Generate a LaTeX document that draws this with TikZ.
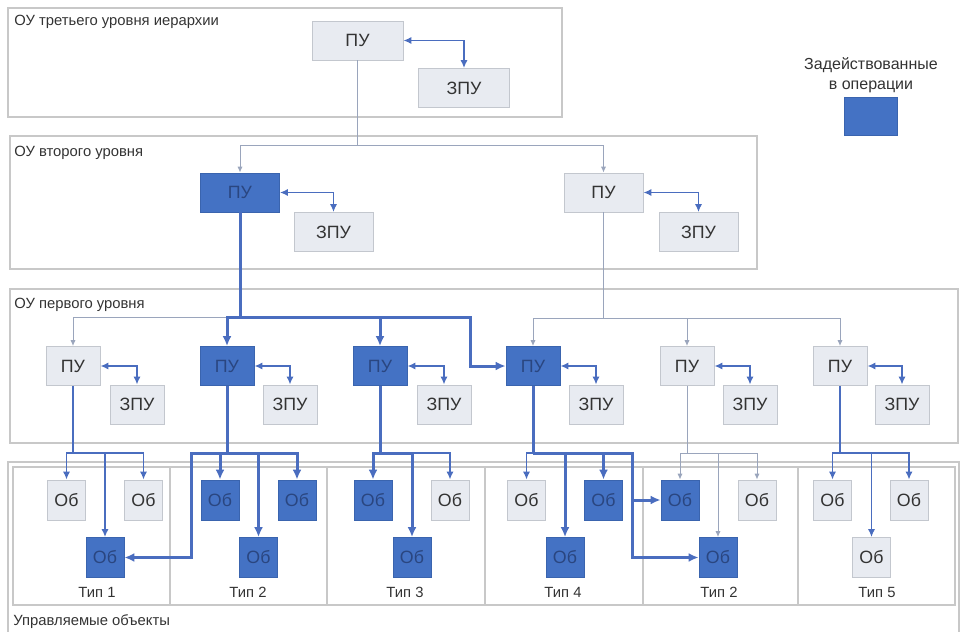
\documentclass[tikz,border=0pt]{standalone}
\usepackage{fontspec}
\setmainfont{Liberation Sans}
\usetikzlibrary{arrows.meta}
\definecolor{bfill}{HTML}{4472C4}
\definecolor{bline}{HTML}{3A64AE}
\definecolor{btext}{HTML}{2A4680}
\definecolor{gfill}{HTML}{E8EBF1}
\definecolor{gline}{HTML}{C3C7CE}
\definecolor{gtext}{HTML}{333333}
\definecolor{frame}{HTML}{C8C8C8}
\definecolor{lblue}{HTML}{4A6DBF}
\definecolor{lidle}{HTML}{9AA5BC}
\begin{document}
\begin{tikzpicture}[x=0.5pt,y=-0.5pt,
  boxfont/.style={font=\fontsize{8.9}{10}\selectfont},
  gbox/.style={draw=gline, fill=gfill, text=gtext, inner sep=0pt, boxfont},
  bbox/.style={draw=bline, fill=bfill, text=btext, inner sep=0pt, boxfont},
  szA/.style={minimum width=45.5pt, minimum height=19.5pt},
  szB/.style={minimum width=39.5pt, minimum height=19.5pt},
  szC/.style={minimum width=27pt, minimum height=19.5pt},
  szD/.style={minimum width=19pt, minimum height=20pt},
  framebox/.style={draw=frame, line width=0.6pt},
  lbl/.style={font=\fontsize{7.4}{9}\selectfont, text=gtext, inner sep=0pt},
  act/.style={draw=lblue, line width=1.5pt, -{Latex[length=5pt,width=4.5pt]}},
  actl/.style={draw=lblue, line width=1.5pt},
  nrm/.style={draw=lblue, line width=0.9pt, -{Latex[length=4pt,width=3.6pt]}},
  nrml/.style={draw=lblue, line width=0.9pt},
  dbl/.style={draw=lblue, line width=0.9pt, {Latex[length=4pt,width=3.6pt]}-{Latex[length=4pt,width=3.6pt]}},
  idl/.style={draw=lidle, line width=0.5pt, -{Latex[length=3pt,width=2.6pt]}},
  idll/.style={draw=lidle, line width=0.5pt}
]
\useasboundingbox (0,0) rectangle (960,632);

% frames
\draw[framebox] (8,8) rectangle (562,117);
\draw[framebox] (10,136) rectangle (757,269);
\draw[framebox] (10,289) rectangle (958,443);
\draw[framebox] (8,632) -- (8,462) -- (959,462) -- (959,632);
\draw[framebox] (13,467) rectangle (955,605);
\foreach \xx in {170,327,485,643,798} \draw[framebox] (\xx,467) -- (\xx,605);

% frame labels
\node[lbl, anchor=west] (l3) at (14,22) {ОУ третьего уровня иерархии};
\node[lbl, anchor=west] (l2) at (14,153) {ОУ второго уровня};
\node[lbl, anchor=west] (l1) at (14,305) {ОУ первого уровня};
\node[lbl, anchor=west] (l0) at (13,622) {Управляемые объекты};

% legend
\node[lbl, align=center, font=\fontsize{8}{10}\selectfont] (lgt) at (871,75) {Задействованные\\в операции};
\node[bbox, minimum width=26.5pt, minimum height=19pt] (lg) at (870.5,116) {};

% third level
\node[gbox, szA] (p3) at (357.5,40.5) {ПУ};
\node[gbox, szA] (z3) at (464,88) {ЗПУ};
\draw[dbl] (p3.east) -| (z3.north);

% second level
\node[bbox, szB] (p2a) at (240,192.5) {ПУ};
\node[gbox, szB] (z2a) at (333.5,232) {ЗПУ};
\node[gbox, szB] (p2b) at (603.5,192.5) {ПУ};
\node[gbox, szB] (z2b) at (698.5,232) {ЗПУ};
\draw[dbl] (p2a.east) -| (z2a.north);
\draw[dbl] (p2b.east) -| (z2b.north);

\coordinate (j3) at (357.5,145);
\draw[idll] (p3.south) -- (j3);
\draw[idl] (j3) -| (p2a.north);
\draw[idl] (j3) -| (p2b.north);

% first level
\foreach \n/\px/\zx/\st in {a/73/137/gbox, b/227/290/bbox, c/380/444/bbox, d/533/596/bbox, e/687/750/gbox, f/840/902/gbox}{
  \node[\st, szC] (p1\n) at (\px,366) {ПУ};
  \node[gbox, szC] (z1\n) at (\zx,404.5) {ЗПУ};
  \draw[dbl] (p1\n.east) -| (z1\n.north);
}

\coordinate (j2a) at (240,317);
\coordinate (k1) at (470,317);
\coordinate (j2b) at (603.5,318);
\draw[actl] (p2a.south) -- (j2a);
\draw[idl] (j2a) -| (p1a.north);
\draw[act] (j2a) -| (p1b.north);
\draw[act] (j2a) -| (p1c.north);
\draw[act] (j2a) -- (k1) |- (p1d.west);
\draw[idll] (p2b.south) -- (j2b);
\draw[idl] (j2b) -| (p1d.north);
\draw[idl] (j2b) -| (p1e.north);
\draw[idl] (j2b) -| (p1f.north);

% objects
\foreach \n/\xa/\xb/\xc/\sa/\sb/\sc in {1/66.5/143.5/105/gbox/gbox/bbox, 2/220/297/258.5/bbox/bbox/bbox, 3/373/450/412/bbox/gbox/bbox, 4/526.5/603.5/565/gbox/bbox/bbox, 5/680/757/718/bbox/gbox/bbox, 6/832.5/909/871.5/gbox/gbox/gbox}{
  \node[\sa, szD] (o\n a) at (\xa,500) {Об};
  \node[\sb, szD] (o\n b) at (\xb,500) {Об};
  \node[\sc, szD] (o\n c) at (\xc,557.5) {Об};
}
\node[lbl] (t1) at (97,592) {Тип 1};
\node[lbl] (t2) at (248,592) {Тип 2};
\node[lbl] (t3) at (405,592) {Тип 3};
\node[lbl] (t4) at (563,592) {Тип 4};
\node[lbl] (t5) at (719,592) {Тип 2};
\node[lbl] (t6) at (877,592) {Тип 5};

% buses
\coordinate (b1) at (73,453);
\coordinate (b2) at (227,453);
\coordinate (b3) at (380,453);
\coordinate (b4) at (533,453);
\coordinate (b5) at (687,453);
\coordinate (b6) at (840,453);
\coordinate (t2j) at (191,453);
\coordinate (t4j) at (632,453);

\draw[nrml] (p1a.south) -- (b1);
\draw[nrm] (b1) -| (o1a.north);
\draw[nrm] (b1) -| (o1c.north);
\draw[nrm] (b1) -| (o1b.north);

\draw[actl] (p1b.south) -- (b2);
\draw[act] (b2) -| (o2a.north);
\draw[act] (b2) -| (o2c.north);
\draw[act] (b2) -| (o2b.north);
\draw[act] (b2) -- (t2j) |- (o1c.east);

\draw[actl] (p1c.south) -- (b3);
\draw[act] (b3) -| (o3a.north);
\draw[act] (b3) -| (o3c.north);
\draw[nrm] (b3) -| (o3b.north);

\draw[actl] (p1d.south) -- (b4);
\draw[nrm] (b4) -| (o4a.north);
\draw[act] (b4) -| (o4c.north);
\draw[act] (b4) -| (o4b.north);
\draw[act] (b4) -- (t4j) |- (o5a.west);
\draw[act] (t4j) |- (o5c.west);

\draw[idll] (p1e.south) -- (b5);
\draw[idl] (b5) -| (o5a.north);
\draw[idl] (b5) -| (o5c.north);
\draw[idl] (b5) -| (o5b.north);

\draw[nrml] (p1f.south) -- (b6);
\draw[nrm] (b6) -| (o6a.north);
\draw[nrm] (b6) -| (o6c.north);
\draw[nrm] (b6) -| (o6b.north);
\end{tikzpicture}
\end{document}
